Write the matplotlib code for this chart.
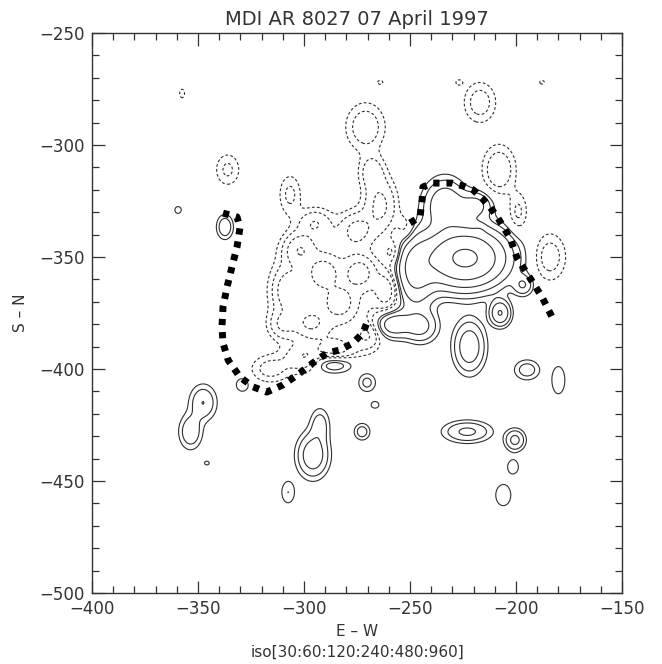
import numpy as np
import matplotlib
matplotlib.use("Agg")
import matplotlib.pyplot as plt
from matplotlib.ticker import MultipleLocator

# contour levels (gauss)
levels = [30, 60, 120, 240, 480, 960]

# positive flux concentrations: centre x, centre y, peak, width x, width y
pos_x = [-224, -247.5, -233.5, -219, -258, -245, -222, -207.5, -196.7, -194.8,
         -180, -286, -270.3, -329, -337.3, -347.6, -353.5, -295.8, -292.5, -272.6,
         -266.5, -223, -200.5, -201.4, -206, -307.5, -345.8, -359.4, -217]
pos_y = [-350.5, -356, -327, -327, -380, -381, -390, -375, -362.5, -400.4,
         -405, -397.5, -406, -407, -336.6, -415, -428, -438.5, -425, -428,
         -416, -428, -431.7, -443.7, -456.3, -455, -442, -329, -338]
pos_b = [1100, 300, 220, 150, 200, 150, 200, 250, 120, 90,
         50, 150, 80, 60, 110, 120, 110, 200, 90, 90,
         40, 140, 150, 50, 60, 60, 35, 40, 45]
pos_sx = [11, 6, 6, 5, 5.5, 5, 4.5, 3, 3, 4,
          3, 6.5, 3, 2.5, 2.5, 4, 3.5, 4.5, 3, 2.5,
          2.5, 7, 3, 2.5, 3, 2.5, 2, 2, 2]
pos_sy = [7.5, 10, 7, 4, 4, 4.5, 7, 3.5, 3, 3,
          6, 3, 3, 2.5, 3.5, 5, 5, 6, 5, 2.5,
          2, 3, 3, 3, 4, 4, 1.5, 2, 2]

# negative flux concentrations
neg_x = [-288, -291, -273.6, -302, -283, -297, -261, -308, -285, -264,
         -268, -271, -336, -306.6, -252, -316, -208, -199, -184, -217,
         -227, -187.7, -264, -357.5, -275, -300, -310, -270, -295, -258]
neg_y = [-366, -357, -357, -347, -370.5, -379.5, -364.7, -365, -392, -327,
         -312, -292, -311, -322, -338, -400, -311, -330, -350, -281,
         -272, -272, -272, -277, -338, -395, -380, -385, -335, -348]
neg_b = [-140, -260, -280, -200, -240, -200, -160, -150, -130, -140,
         -90, -100, -70, -70, -70, -80, -110, -70, -90, -90,
         -35, -35, -35, -40, -130, -100, -110, -100, -100, -90]
neg_sx = [15, 4.5, 4.5, 4.5, 4.5, 5, 4, 4, 6, 5,
          4, 6, 4, 3.5, 3, 6, 5, 3, 5, 5,
          2, 2, 2, 1.5, 5, 6, 4, 4, 5, 3]
neg_sy = [17, 4.5, 4.5, 4.5, 4.5, 4, 6, 6, 4, 8,
          5, 7, 5, 6, 5, 4, 7, 6, 7, 6,
          1.5, 1.5, 1.5, 2.5, 5, 4, 4, 4, 4, 4]

# hand-drawn dotted neutral-line sketches
path1_x = [-338.2, -331.6, -330.2, -331.6, -334, -336.3, -338.2, -338.7, -338.2, -335.8,
           -330.2, -324, -317.5, -309.9, -301.9, -295.8, -289.2, -283, -276.9, -272.2, -269.8]
path1_y = [-330.4, -332.1, -337, -345.5, -354.5, -363.4, -372.3, -381.25, -388.4, -396,
           -403.6, -408, -410.3, -407.1, -401.8, -397.3, -392.9, -391.5, -388.4, -383.9, -378.1]
path2_x = [-250, -245.3, -244.3, -243.9, -239.2, -230.2, -225, -220.3, -216, -212.3,
           -208.5, -205.7, -202.8, -199.5, -193.4, -187.7, -183]
path2_y = [-334.8, -332.1, -324.6, -318.75, -317, -317, -318.3, -320, -323.7, -327.7,
           -332.6, -337, -341.5, -350.4, -359.4, -367.9, -376.8]

xg = np.linspace(-400, -150, 501)
yg = np.linspace(-500, -250, 501)
X, Y = np.meshgrid(xg, yg)
B = np.zeros_like(X)
for cx, cy, b, sx, sy in zip(pos_x + neg_x, pos_y + neg_y, pos_b + neg_b,
                             pos_sx + neg_sx, pos_sy + neg_sy):
    B += b * np.exp(-((X - cx) ** 2 / (2 * sx ** 2) + (Y - cy) ** 2 / (2 * sy ** 2)))

fig = plt.figure(figsize=(6.62, 6.64), dpi=100)
ax = fig.add_axes([92 / 662, 1 - 593 / 664, 530 / 662, 560 / 664])

ax.contour(X, Y, B, levels=levels, colors='#303030', linewidths=0.8, linestyles='solid')
ax.contour(X, Y, -B, levels=levels, colors='#303030', linewidths=0.8,
           linestyles=[(0, (2.5, 2))])

ax.plot(path1_x, path1_y, color='black', lw=5, ls=(0, (0.9, 1.0)), dash_capstyle='butt')
ax.plot(path2_x, path2_y, color='black', lw=5, ls=(0, (0.9, 1.0)), dash_capstyle='butt')

ax.set_xlim(-400, -150)
ax.set_ylim(-500, -250)
ax.xaxis.set_major_locator(MultipleLocator(50))
ax.yaxis.set_major_locator(MultipleLocator(50))
ax.xaxis.set_minor_locator(MultipleLocator(10))
ax.yaxis.set_minor_locator(MultipleLocator(10))
ax.tick_params(which='both', direction='in', top=True, right=True, colors='#333333',
               labelsize=12, width=0.9)
ax.tick_params(which='major', length=9, pad=5)
ax.tick_params(which='minor', length=5)
for s in ax.spines.values():
    s.set_linewidth(1.0)
    s.set_color('#333333')

ax.set_title('MDI AR 8027 07 April 1997', fontsize=14, color='#333333', pad=6)
ax.set_xlabel('E \u2013 W', fontsize=11, color='#333333', labelpad=4)
ax.set_ylabel('S \u2013 N', fontsize=11, color='#333333', labelpad=8)
fig.text(0.5 * (92 + 622) / 662, 1 - 652 / 664, 'iso[30:60:120:240:480:960]',
         ha='center', va='center', fontsize=11, color='#333333')

fig.savefig('out.png', dpi=100)
